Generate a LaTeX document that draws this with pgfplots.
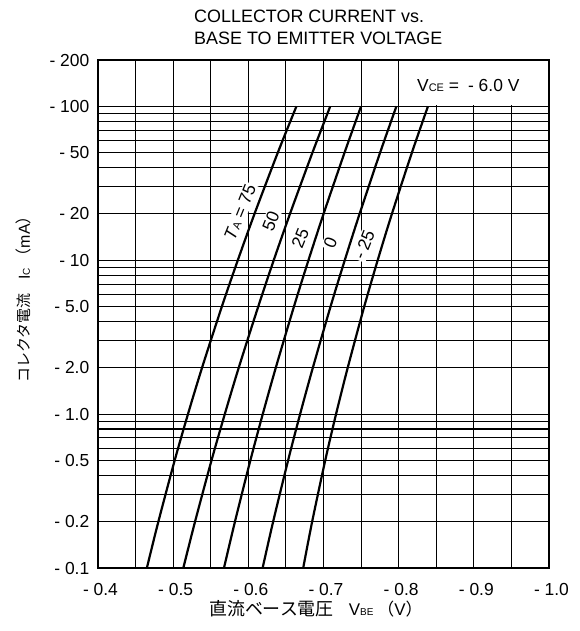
\documentclass[border=0pt]{standalone}
\usepackage{fontspec}
\setmainfont{Liberation Sans}
\newfontfamily\jp{Noto Sans CJK JP}
\usepackage{pgfplots}
\pgfplotsset{compat=1.18}
\begin{document}
\begin{tikzpicture}
\useasboundingbox (-98bp,-63bp) rectangle (482bp,568bp);
\begin{axis}[
  scale only axis, width=451bp, height=508bp,
  at={(0,0)}, anchor=south west,
  xmin=0.4, xmax=1.0, ymode=log, ymin=0.1, ymax=200,
  xtick={0.4,0.5,0.6,0.7,0.8,0.9,1.0},
  xticklabels={- 0.4,- 0.5,- 0.6,- 0.7,- 0.8,- 0.9,- 1.0},
  minor xtick={0.45,0.55,0.65,0.75,0.85,0.95},
  ytick={0.1,0.2,0.5,1,2,5,10,20,50,100,200},
  yticklabels={- 0.1,- 0.2,- 0.5,- 1.0,- 2.0,- 5.0,- 10,- 20,- 50,- 100,- 200},
  minor ytick={0.3,0.4,0.6,0.7,0.8,0.9,3,4,6,7,8,9,30,40,60,70,80,90},
  grid=both,
  major grid style={black, line width=1.05bp},
  minor grid style={black, line width=1.05bp},
  major tick length=0pt, minor tick length=0pt,
  axis line style={black, line width=1.2bp},
  tick label style={font=\fontsize{17.5}{17.5}\selectfont, inner sep=0pt},
  xticklabel style={anchor=base, yshift=-27bp, xshift=2.5bp},
  yticklabel style={anchor=east, xshift=-8.5bp},
]
\fill[white] (axis cs:0.8015,101.5) rectangle (axis cs:0.9982,196.5);
\node[rotate=68, fill=white, inner sep=1.5bp, font=\fontsize{17.5}{17.5}\selectfont] at (axis cs:0.589,20.5) {\textit{T}{\fontsize{11}{11}\selectfont A} = 75};
\node[rotate=68, fill=white, inner sep=1.5bp, font=\fontsize{17.5}{17.5}\selectfont] at (axis cs:0.630,17.9) {50};
\node[rotate=68, fill=white, inner sep=1.5bp, font=\fontsize{17.5}{17.5}\selectfont] at (axis cs:0.669,13.9) {25};
\node[rotate=68, fill=white, inner sep=1.5bp, font=\fontsize{17.5}{17.5}\selectfont] at (axis cs:0.709,12.9) {0};
\node[rotate=68, fill=white, inner sep=1.5bp, font=\fontsize{17.5}{17.5}\selectfont] at (axis cs:0.754,12.6) {- 25};
% TA = 75
\addplot[black, line width=2.2bp, smooth] coordinates {
(0.4650,0.1) (0.4803,0.2) (0.5020,0.5) (0.5197,1) (0.5384,2) (0.5648,5) (0.5860,10) (0.6082,20) (0.6392,50) (0.6640,100)};
% TA = 50
\addplot[black, line width=2.2bp, smooth] coordinates {
(0.5135,0.1) (0.5291,0.2) (0.5510,0.5) (0.5687,1) (0.5872,2) (0.6132,5) (0.6338,10) (0.6554,20) (0.6853,50) (0.7090,100)};
% TA = 25
\addplot[black, line width=2.2bp, smooth] coordinates {
(0.5676,0.1) (0.5822,0.2) (0.6027,0.5) (0.6192,1) (0.6365,2) (0.6607,5) (0.6800,10) (0.7001,20) (0.7280,50) (0.7500,100)};
% TA = 0
\addplot[black, line width=2.2bp, smooth] coordinates {
(0.6190,0.1) (0.6330,0.2) (0.6529,0.5) (0.6689,1) (0.6858,2) (0.7094,5) (0.7283,10) (0.7480,20) (0.7753,50) (0.7970,100)};
% TA = -25
\addplot[black, line width=2.2bp, smooth] coordinates {
(0.6730,0.1) (0.6849,0.2) (0.7023,0.5) (0.7167,1) (0.7322,2) (0.7542,5) (0.7721,10) (0.7910,20) (0.8176,50) (0.8390,100)};
\end{axis}
\node[anchor=base west, inner sep=0pt, font=\fontsize{18}{18}\selectfont] at (96bp,545.3bp) {COLLECTOR CURRENT vs.};
\node[anchor=base west, inner sep=0pt, font=\fontsize{18}{18}\selectfont] at (96bp,523bp) {BASE TO EMITTER VOLTAGE};
\node[anchor=base west, inner sep=0pt, font=\fontsize{17.5}{17.5}\selectfont] at (319bp,476bp) {V{\fontsize{11}{11}\selectfont CE} =\hspace{9bp}- 6.0 V};
\node[anchor=base west, inner sep=0pt, font=\fontsize{17}{17}\selectfont] at (111bp,-47bp) {{\jp\fontsize{18}{18}\selectfont 直流ベース電圧}\hspace{15bp}V{\fontsize{10}{10}\selectfont BE}\hspace{4bp}{\jp （}V{\jp ）}};
\node[rotate=90, anchor=base west, inner sep=0pt, font=\fontsize{16}{16}\selectfont] at (-68bp,185bp) {{\jp\fontsize{15}{15}\selectfont コレクタ電流}\hspace{14bp}I{\fontsize{10}{10}\selectfont C}\hspace{4bp}{\jp （}mA{\jp ）}};
\end{tikzpicture}
\end{document}
